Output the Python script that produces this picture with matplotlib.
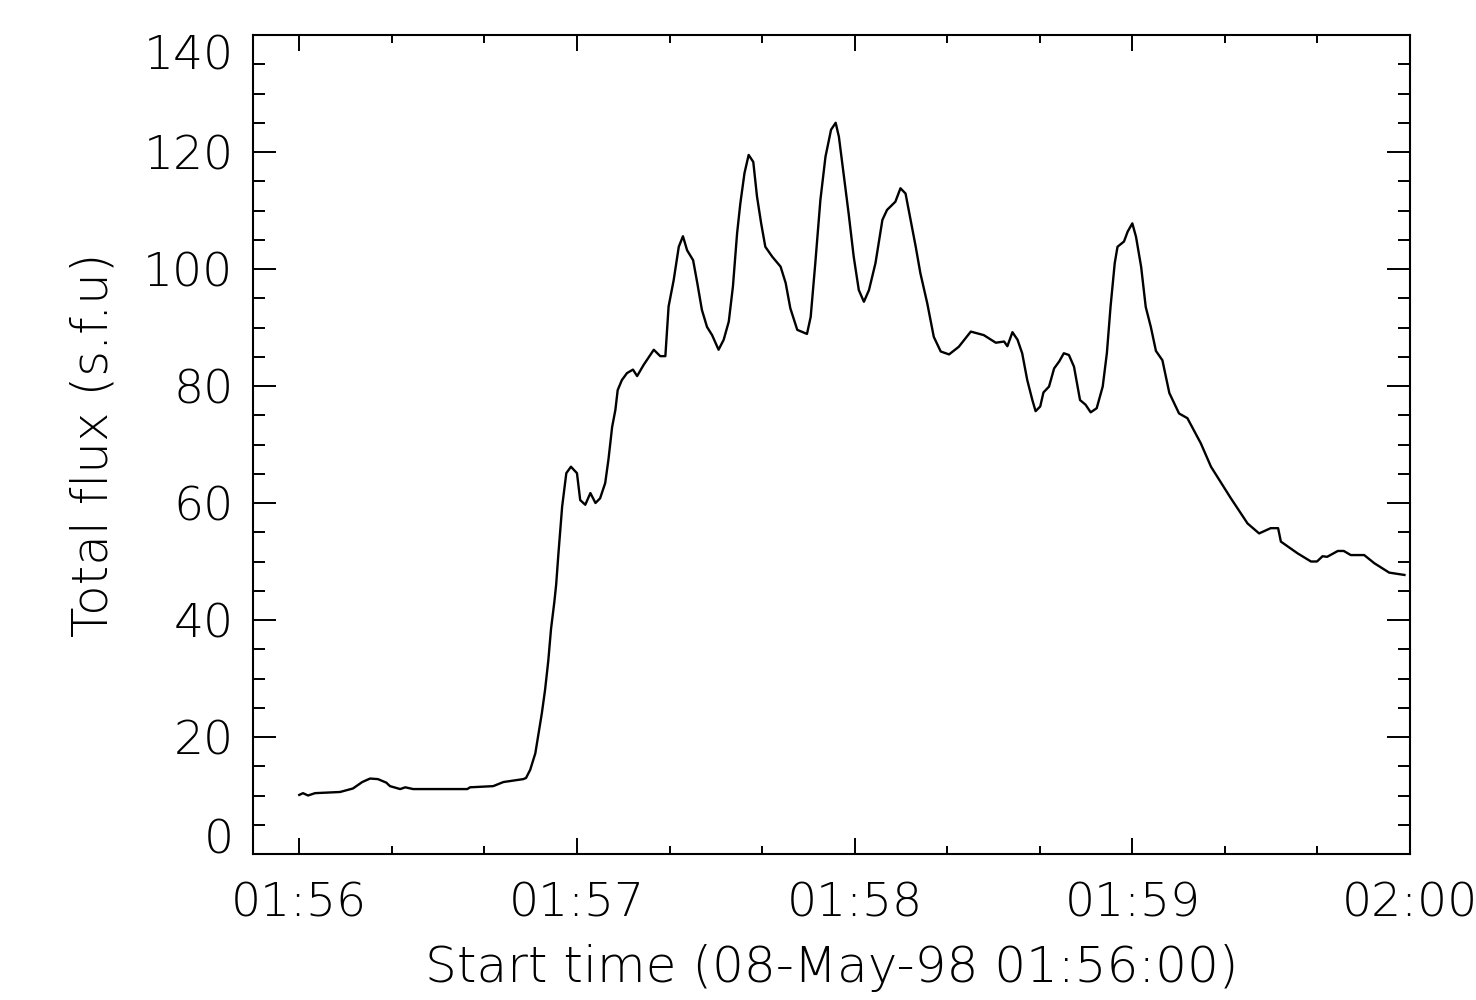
import matplotlib
matplotlib.use("Agg")
import matplotlib.pyplot as plt
import numpy as np

# seconds after 01:56:00
t_sec = [0.0, 0.8, 1.9, 3.4, 8.8, 11.6, 13.6, 15.3, 17.0, 18.8, 19.6, 21.8, 22.9, 24.6,
         36.3, 36.9, 41.9, 44.1, 48.4, 49.0, 49.9, 51.0, 51.7, 52.4, 53.1, 53.8, 54.4,
         55.1, 55.5, 56.0, 56.8, 57.7, 58.7, 60.0, 60.7, 61.8, 62.9, 64.0, 65.0, 66.1,
         66.8, 67.6, 68.3, 68.8, 69.7, 70.8, 72.1, 73.0, 74.4, 76.6, 78.0, 79.1, 79.8,
         80.9, 82.0, 82.9, 83.8, 85.1, 86.0, 87.0, 88.1, 89.2, 90.6, 91.7, 92.8, 93.7,
         94.6, 95.3, 96.2, 97.1, 98.1, 98.9, 99.8, 100.7, 102.2, 104.0, 105.1, 106.1,
         107.6, 109.7, 110.5, 111.5, 112.6, 113.7, 114.9, 115.9, 116.6, 117.7, 118.7,
         119.8, 120.9, 122.0, 123.1, 124.5, 126.0, 127.0, 128.8, 129.9, 131.0, 132.1,
         133.2, 134.2, 135.7, 137.1, 138.6, 140.4, 142.5, 145.1, 147.9, 150.5, 152.3,
         153.0, 154.1, 155.2, 156.2, 157.3, 158.4, 159.1, 160.1, 160.8, 162.0, 163.1,
         164.2, 165.2, 166.3, 167.4, 168.7, 169.9, 171.0, 172.3, 173.6, 174.5, 175.3,
         176.2, 176.8, 178.2, 179.0, 180.0, 180.8, 181.9, 182.9, 184.0, 185.1, 186.5,
         188.0, 190.1, 191.9, 194.8, 197.0, 201.3, 204.9, 207.4, 209.9, 211.5, 212.1,
         215.7, 218.6, 219.9, 221.1, 222.1, 224.4, 225.7, 227.2, 230.1, 232.3, 235.5,
         238.8]

flux = [10.1, 10.4, 10.0, 10.4, 10.6, 11.2, 12.3, 12.9, 12.8, 12.2, 11.6, 11.1, 11.4, 11.1,
        11.1, 11.4, 11.6, 12.3, 12.8, 13.0, 14.4, 17.2, 20.6, 24.0, 28.0, 33.0, 38.5,
        43.0, 46.0, 51.4, 59.4, 65.1, 66.2, 65.1, 60.5, 59.7, 61.7, 60.0, 60.8, 63.4,
        67.4, 73.0, 75.9, 79.3, 81.0, 82.2, 82.8, 81.7, 83.6, 86.2, 85.1, 85.1, 93.6,
        98.1, 103.8, 105.6, 103.2, 101.5, 97.6, 93.0, 90.1, 88.7, 86.2, 87.9, 91.0, 97.0,
        106.1, 111.2, 116.4, 119.5, 118.3, 112.4, 107.8, 103.8, 102.1, 100.4, 97.6, 93.3,
        89.6, 88.9, 91.8, 101.0, 111.8, 119.2, 123.8, 125.0, 122.6, 115.8, 109.5,
        102.1, 96.4, 94.4, 96.4, 101.0, 108.4, 110.1, 111.5, 113.8, 112.9, 108.4,
        103.8, 99.3, 94.1, 88.4, 85.9, 85.4, 86.7, 89.3, 88.7, 87.4, 87.6,
        86.8, 89.2, 87.9, 85.6, 81.0, 77.6, 75.7, 76.5, 78.9, 79.9, 83.0,
        84.2, 85.6, 85.3, 83.3, 77.6, 76.8, 75.5, 76.2, 79.9, 85.6, 93.6,
        101.0, 103.8, 104.7, 106.4, 107.8, 105.5, 100.4, 93.5, 90.1, 86.0, 84.4,
        78.8, 75.3, 74.5, 70.2, 66.2, 60.8, 56.5, 54.8, 55.7, 55.7, 53.4,
        51.4, 50.0, 50.0, 50.9, 50.8, 51.8, 51.8, 51.1, 51.1, 49.7, 48.1,
        47.7]

x_ticks = [0, 60, 120, 180, 240]
x_ticklabels = ["01:56", "01:57", "01:58", "01:59", "02:00"]
y_ticks = [0, 20, 40, 60, 80, 100, 120, 140]

# thin strokes like the old IDL vector font
plt.rcParams['font.family'] = ['DejaVu Sans']
plt.rcParams['font.weight'] = 200
plt.rcParams['axes.labelweight'] = 200

fig = plt.figure(figsize=(14.76, 10), dpi=100)
ax = fig.add_axes([253 / 1476, 146 / 1000, 1157 / 1476, 819 / 1000])

ax.plot(t_sec, flux, color="black", lw=1.7)

ax.set_xlim(-10, 240)
ax.set_ylim(0, 140)
ax.set_xticks(x_ticks)
ax.set_xticklabels(x_ticklabels)
ax.set_xticks(np.arange(0, 241, 20), minor=True)
ax.set_yticks(y_ticks)
ax.set_yticks(np.arange(0, 141, 5), minor=True)

for s in ax.spines.values():
    s.set_linewidth(1.5)

ax.tick_params(axis="x", which="both", direction="in", top=True, bottom=True,
               width=1.4, labelsize=34, pad=20)
ax.tick_params(axis="x", which="major", length=11.8)
ax.tick_params(axis="x", which="minor", length=5.9)
ax.tick_params(axis="y", which="both", direction="in", left=True, right=True,
               width=1.4, labelsize=34, pad=14)
ax.tick_params(axis="y", which="major", length=16.7)
ax.tick_params(axis="y", which="minor", length=8.3)

ylabs = ax.get_yticklabels()
ylabs[0].set_va("baseline")
ylabs[-1].set_va("top")

ax.set_xlabel("Start time (08-May-98 01:56:00)", fontsize=36, fontweight=200)
ax.set_ylabel("Total flux (s.f.u)", fontsize=36, fontweight=200)
ax.xaxis.set_label_coords(0.5, -0.139)
ax.xaxis.label.set_va("center")
ax.yaxis.set_label_coords(-0.138, 0.5)
ax.yaxis.label.set_va("center")

fig.savefig("out.png", dpi=100)
